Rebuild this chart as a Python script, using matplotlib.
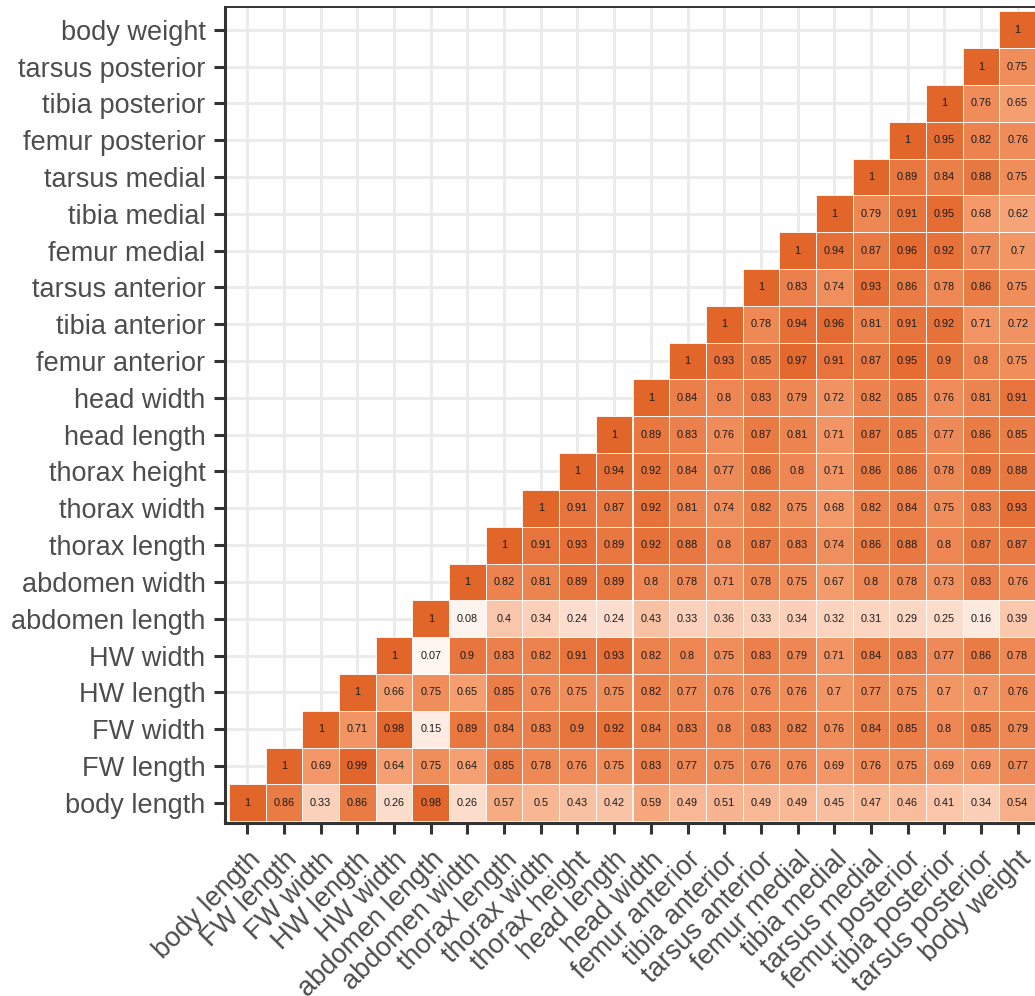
import numpy as np
import matplotlib
matplotlib.use('Agg')
import matplotlib.pyplot as plt
from matplotlib.colors import LinearSegmentedColormap, Normalize
from matplotlib.patches import Rectangle

traits = ['body length', 'FW length', 'FW width', 'HW length', 'HW width',
          'abdomen length', 'abdomen width', 'thorax length', 'thorax width',
          'thorax height', 'head length', 'head width', 'femur anterior',
          'tibia anterior', 'tarsus anterior', 'femur medial', 'tibia medial',
          'tarsus medial', 'femur posterior', 'tibia posterior',
          'tarsus posterior', 'body weight']

# upper triangle, each row starts at the diagonal
r_body_length = [1, 0.86, 0.33, 0.86, 0.26, 0.98, 0.26, 0.57, 0.5, 0.43, 0.42, 0.59,
                 0.49, 0.51, 0.49, 0.49, 0.45, 0.47, 0.46, 0.41, 0.34, 0.54]
r_fw_length = [1, 0.69, 0.99, 0.64, 0.75, 0.64, 0.85, 0.78, 0.76, 0.75, 0.83,
               0.77, 0.75, 0.76, 0.76, 0.69, 0.76, 0.75, 0.69, 0.69, 0.77]
r_fw_width = [1, 0.71, 0.98, 0.15, 0.89, 0.84, 0.83, 0.9, 0.92, 0.84,
              0.83, 0.8, 0.83, 0.82, 0.76, 0.84, 0.85, 0.8, 0.85, 0.79]
r_hw_length = [1, 0.66, 0.75, 0.65, 0.85, 0.76, 0.75, 0.75, 0.82,
               0.77, 0.76, 0.76, 0.76, 0.7, 0.77, 0.75, 0.7, 0.7, 0.76]
r_hw_width = [1, 0.07, 0.9, 0.83, 0.82, 0.91, 0.93, 0.82,
              0.8, 0.75, 0.83, 0.79, 0.71, 0.84, 0.83, 0.77, 0.86, 0.78]
r_abd_length = [1, 0.08, 0.4, 0.34, 0.24, 0.24, 0.43,
                0.33, 0.36, 0.33, 0.34, 0.32, 0.31, 0.29, 0.25, 0.16, 0.39]
r_abd_width = [1, 0.82, 0.81, 0.89, 0.89, 0.8,
               0.78, 0.71, 0.78, 0.75, 0.67, 0.8, 0.78, 0.73, 0.83, 0.76]
r_thx_length = [1, 0.91, 0.93, 0.89, 0.92,
                0.88, 0.8, 0.87, 0.83, 0.74, 0.86, 0.88, 0.8, 0.87, 0.87]
r_thx_width = [1, 0.91, 0.87, 0.92,
               0.81, 0.74, 0.82, 0.75, 0.68, 0.82, 0.84, 0.75, 0.83, 0.93]
r_thx_height = [1, 0.94, 0.92,
                0.84, 0.77, 0.86, 0.8, 0.71, 0.86, 0.86, 0.78, 0.89, 0.88]
r_head_length = [1, 0.89,
                 0.83, 0.76, 0.87, 0.81, 0.71, 0.87, 0.85, 0.77, 0.86, 0.85]
r_head_width = [1, 0.84, 0.8, 0.83, 0.79, 0.72, 0.82, 0.85, 0.76, 0.81, 0.91]
r_fem_ant = [1, 0.93, 0.85, 0.97, 0.91, 0.87, 0.95, 0.9, 0.8, 0.75]
r_tib_ant = [1, 0.78, 0.94, 0.96, 0.81, 0.91, 0.92, 0.71, 0.72]
r_tar_ant = [1, 0.83, 0.74, 0.93, 0.86, 0.78, 0.86, 0.75]
r_fem_med = [1, 0.94, 0.87, 0.96, 0.92, 0.77, 0.7]
r_tib_med = [1, 0.79, 0.91, 0.95, 0.68, 0.62]
r_tar_med = [1, 0.89, 0.84, 0.88, 0.75]
r_fem_post = [1, 0.95, 0.82, 0.76]
r_tib_post = [1, 0.76, 0.65]
r_tar_post = [1, 0.75]
r_body_weight = [1]

rows = [r_body_length, r_fw_length, r_fw_width, r_hw_length, r_hw_width,
        r_abd_length, r_abd_width, r_thx_length, r_thx_width, r_thx_height,
        r_head_length, r_head_width, r_fem_ant, r_tib_ant, r_tar_ant,
        r_fem_med, r_tib_med, r_tar_med, r_fem_post, r_tib_post,
        r_tar_post, r_body_weight]

n = len(traits)

cmap = LinearSegmentedColormap.from_list(
    'orng', [(0, '#FFFFFF'), (0.3, '#FCD6C2'), (0.65, '#F59E70'), (1, '#E2652A')])
norm = Normalize(vmin=0, vmax=1)

plt.rcParams['font.family'] = ['Liberation Sans', 'DejaVu Sans']

fig = plt.figure(figsize=(10.35, 9.96), dpi=100)
ax = fig.add_axes([225/1035, 1 - 823/996, 815/1035, 816/996])

ax.set_axisbelow(True)
ax.grid(True, color='#EBEBEB', linewidth=2.2, zorder=0)

for i, vals in enumerate(rows):
    for k, v in enumerate(vals):
        j = i + k
        ax.add_patch(Rectangle((j - 0.5, i - 0.5), 1, 1, facecolor=cmap(norm(v)),
                               edgecolor='white', linewidth=0.6, zorder=2))
        ax.text(j, i, f'{v:g}', ha='center', va='center', fontsize=7.8,
                color='#1a1a1a', zorder=3)

ax.set_xlim(-0.61, 21.61)
ax.set_ylim(-0.55, 21.62)
ax.set_xticks(range(n))
ax.set_yticks(range(n))
ax.set_xticklabels(traits, rotation=45, ha='right', va='top', rotation_mode='anchor')
ax.set_yticklabels(traits)
ax.tick_params(axis='both', length=8, width=2.2, color='#333333', labelsize=19.5,
               labelcolor='#4D4D4D', pad=6)
ax.tick_params(axis='x', pad=9)

for side in ['left', 'bottom']:
    ax.spines[side].set_linewidth(2.2)
    ax.spines[side].set_color('#333333')
ax.spines['top'].set_linewidth(1.4)
ax.spines['top'].set_color('#333333')
ax.spines['right'].set_visible(False)

fig.savefig('out.png', dpi=100)
